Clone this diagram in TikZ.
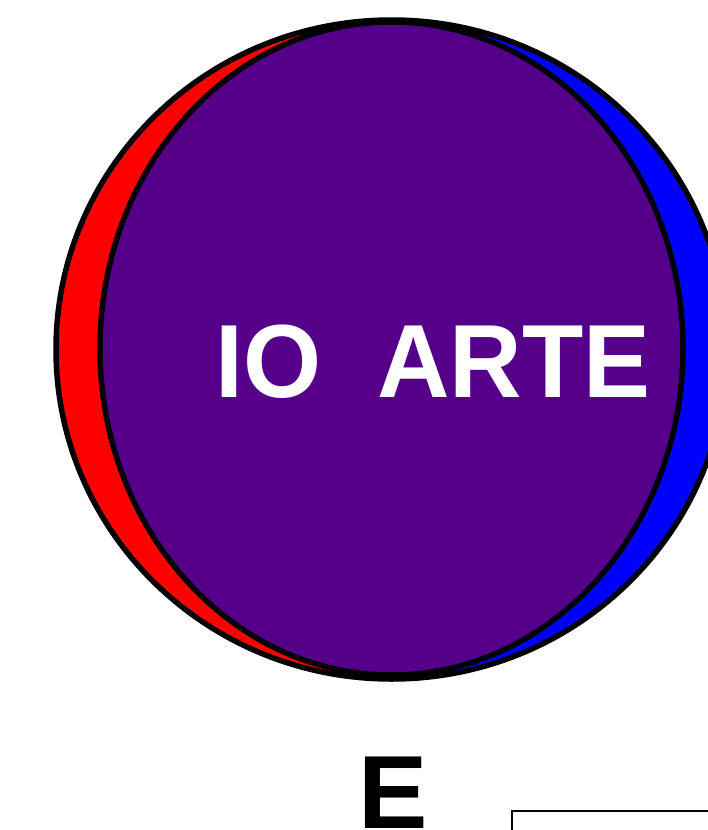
\documentclass[tikz,border=0pt]{standalone}
\usepackage{fontspec}
\setmainfont{Liberation Sans}
\definecolor{vpurple}{RGB}{85,0,139}
\begin{document}
\begin{tikzpicture}[x=1pt,y=-1pt,
  outline/.style={draw=black,line width=5.5pt},
  bigtext/.style={font=\bfseries\fontsize{104}{104}\selectfont,inner sep=0pt,anchor=base}]
\useasboundingbox (0,0) rectangle (708,830);
\clip (0,0) rectangle (708,830);
% outer ellipse: red left half, blue right half
\begin{scope}
  \clip (0,0) rectangle (391.5,830);
  \fill[red] (391.5,349.5) ellipse [x radius=335.5, y radius=329.5];
\end{scope}
\begin{scope}
  \clip (391.5,0) rectangle (760,830);
  \fill[blue] (391.5,349.5) ellipse [x radius=335.5, y radius=329.5];
\end{scope}
% inner purple ellipse
\fill[vpurple] (391.5,348.5) ellipse [x radius=291.5, y radius=326.5];
\draw[outline] (391.5,349.5) ellipse [x radius=335.5, y radius=329.5];
\draw[outline] (391.5,348.5) ellipse [x radius=291.5, y radius=326.5];
\node[bigtext,text=white] (title) at (433,397) {\scalebox{0.965}[1]{IO~~ARTE}};
\node[bigtext,text=black] (e) at (393,828) {E};
\node[draw=black,line width=2pt,minimum width=300pt,minimum height=100pt,anchor=north west,inner sep=0pt] (box) at (511,810) {};
\end{tikzpicture}
\end{document}
